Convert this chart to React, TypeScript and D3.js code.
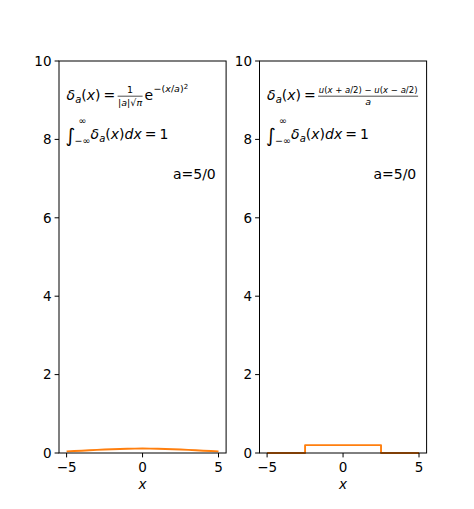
import * as d3 from 'd3';

const WIDTH = 474;
const HEIGHT = 509;
const MARGIN = { top: 61, bottom: 56, left: 59, right: 47.4 };
const GAP = 33.4;
const FONT = 'DejaVu Sans, Liberation Sans, sans-serif';
const ORANGE = '#ff7f0e';

// gaussian approximation, a = 5
const GAUSS_X = [-5, -4.5, -4, -3.5, -3, -2.5, -2, -1.5, -1, -0.5, 0, 0.5, 1, 1.5, 2, 2.5, 3, 3.5, 4, 4.5, 5];
const GAUSS_Y = [0.042, 0.05, 0.059, 0.069, 0.079, 0.088, 0.096, 0.103, 0.108, 0.112, 0.113, 0.112, 0.108, 0.103, 0.096, 0.088, 0.079, 0.069, 0.059, 0.05, 0.042];

// rectangular approximation, a = 5
const RECT_X = [-5, -2.5, -2.5, 2.5, 2.5, 5];
const RECT_Y = [0, 0, 0.2, 0.2, 0, 0];

const X_TICKS = [-5, 0, 5];
const Y_TICKS = [0, 2, 4, 6, 8, 10];
const X_DOMAIN: [number, number] = [-5.5, 5.5];
const Y_DOMAIN: [number, number] = [0, 10];
const LABEL_A = 'a=5/0';

const fmt = (v: number) => (v < 0 ? '\u2212' + Math.abs(v) : String(v));

type PanelProps = {
  left: number;
  width: number;
  xs: number[];
  ys: number[];
  kind: 'gauss' | 'rect';
};

const Panel = ({ left, width, xs, ys, kind }: PanelProps) => {
  const boundsHeight = HEIGHT - MARGIN.top - MARGIN.bottom;
  const xScale = d3.scaleLinear().domain(X_DOMAIN).range([0, width]);
  const yScale = d3.scaleLinear().domain(Y_DOMAIN).range([boundsHeight, 0]);

  const line = d3
    .line<number>()
    .x((_, i) => xScale(xs[i]))
    .y((d) => yScale(d));

  const ax = xScale(-5);
  const ay = yScale(9);
  const by = yScale(8);

  const lhs = (
    <text x={ax} y={ay} fontSize={14} fontFamily={FONT}>
      <tspan fontStyle="italic">δ</tspan>
      <tspan fontStyle="italic" fontSize={10} dy={3}>a</tspan>
      <tspan dy={-3}>(</tspan>
      <tspan fontStyle="italic">x</tspan>
      <tspan>)</tspan>
      <tspan dx={3}>=</tspan>
    </text>
  );

  const formula =
    kind === 'gauss' ? (
      <g fontFamily={FONT}>
        {lhs}
        <line x1={ax + 51} x2={ax + 76} y1={ay - 4} y2={ay - 4} stroke="#000" strokeWidth={0.7} />
        <text x={ax + 63.5} y={ay - 7} fontSize={9.5} textAnchor="middle">1</text>
        <text x={ax + 63.5} y={ay + 6} fontSize={9.5} textAnchor="middle">
          |<tspan fontStyle="italic">a</tspan>|√<tspan fontStyle="italic">π</tspan>
        </text>
        <text x={ax + 78} y={ay} fontSize={14}>e</text>
        <text x={ax + 87} y={ay - 8} fontSize={9.5}>
          {'\u2212('}
          <tspan fontStyle="italic">x</tspan>/<tspan fontStyle="italic">a</tspan>)
          <tspan fontSize={7} dy={-3}>2</tspan>
        </text>
      </g>
    ) : (
      <g fontFamily={FONT}>
        {lhs}
        <line x1={ax + 51} x2={ax + 151} y1={ay - 4} y2={ay - 4} stroke="#000" strokeWidth={0.7} />
        <text x={ax + 101} y={ay - 7} fontSize={8.5} textAnchor="middle">
          <tspan fontStyle="italic">u</tspan>(<tspan fontStyle="italic">x</tspan> + <tspan fontStyle="italic">a</tspan>/2)
          {' \u2212 '}
          <tspan fontStyle="italic">u</tspan>(<tspan fontStyle="italic">x</tspan>{' \u2212 '}<tspan fontStyle="italic">a</tspan>/2)
        </text>
        <text x={ax + 101} y={ay + 5} fontSize={9.5} fontStyle="italic" textAnchor="middle">a</text>
      </g>
    );

  const integral = (
    <g fontFamily={FONT}>
      <text x={ax - 1} y={by + 3} fontSize={19}>∫</text>
      <text x={ax + 12} y={by - 15} fontSize={9.5}>∞</text>
      <text x={ax + 8} y={by + 5} fontSize={9.5}>{'\u2212\u221e'}</text>
      <text x={ax + 24} y={by} fontSize={14}>
        <tspan fontStyle="italic">δ</tspan>
        <tspan fontStyle="italic" fontSize={10} dy={3}>a</tspan>
        <tspan dy={-3}>(</tspan>
        <tspan fontStyle="italic">x</tspan>
        <tspan>)</tspan>
        <tspan fontStyle="italic">dx</tspan>
        <tspan dx={3}>=</tspan>
        <tspan dx={3}>1</tspan>
      </text>
    </g>
  );

  return (
    <g transform={`translate(${left},${MARGIN.top})`}>
      <path d={line(ys) ?? ''} fill="none" stroke={ORANGE} strokeWidth={1.9} strokeLinejoin="round" />
      <rect x={0} y={0} width={width} height={boundsHeight} fill="none" stroke="#000" strokeWidth={1} />
      {Y_TICKS.map((v) => (
        <g key={v} transform={`translate(0,${yScale(v)})`}>
          <line x1={-4.4} x2={0} stroke="#000" strokeWidth={1} />
          <text x={-7.5} y={0} dy="0.36em" textAnchor="end" fontSize={13.5} fontFamily={FONT}>
            {v}
          </text>
        </g>
      ))}
      {X_TICKS.map((v) => (
        <g key={v} transform={`translate(${xScale(v)},${boundsHeight})`}>
          <line y1={0} y2={4.4} stroke="#000" strokeWidth={1} />
          <text x={0} y={19} textAnchor="middle" fontSize={13.5} fontFamily={FONT}>
            {fmt(v)}
          </text>
        </g>
      ))}
      <text
        x={width / 2}
        y={boundsHeight + 36}
        textAnchor="middle"
        fontSize={13.5}
        fontStyle="italic"
        fontFamily={FONT}
      >
        x
      </text>
      {formula}
      {integral}
      <text x={xScale(2)} y={yScale(7)} fontSize={14} fontFamily={FONT}>
        {LABEL_A}
      </text>
    </g>
  );
};

const App = () => {
  const panelWidth = (WIDTH - MARGIN.left - MARGIN.right - GAP) / 2;
  return (
    <svg
      width={WIDTH}
      height={HEIGHT}
      style={{ position: 'absolute', left: 0, top: 0, background: '#fff' }}
    >
      <Panel left={MARGIN.left} width={panelWidth} xs={GAUSS_X} ys={GAUSS_Y} kind="gauss" />
      <Panel
        left={MARGIN.left + panelWidth + GAP}
        width={panelWidth}
        xs={RECT_X}
        ys={RECT_Y}
        kind="rect"
      />
    </svg>
  );
};

export default App;
